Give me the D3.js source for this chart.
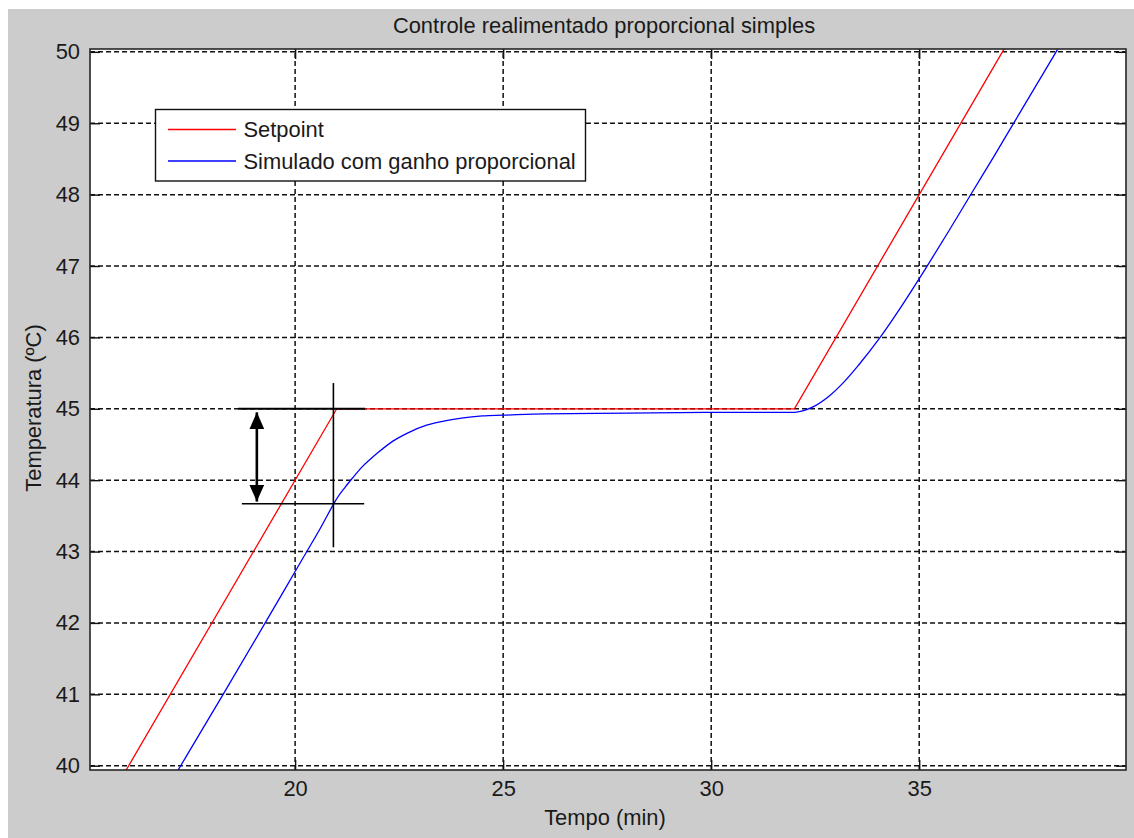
<!DOCTYPE html>
<html>
<head>
<meta charset="utf-8">
<script src="https://cdn.jsdelivr.net/npm/d3@7"></script>
<style>
  body { margin: 0; background: #ffffff; }
  svg { display: block; }
  text { font-family: "Liberation Sans", Arial, sans-serif; fill: #1a1a1a; }
</style>
</head>
<body>
<svg id="chart" width="1134" height="838"></svg>
<script>
// Setpoint (reference temperature), piecewise ramp / hold / ramp
const setpointTime = [15.0, 21.0, 32.0, 37.0, 37.6];
const setpointTemp = [39.0, 45.0, 45.0, 50.0, 50.6];

// Simulated response with proportional gain
const simTime = [15.0, 17.25, 18.27, 19.28, 20.0, 20.26, 20.6, 20.92, 21.0, 21.2,
                 21.38, 21.6, 21.8, 22.0, 22.36, 22.7, 23.16, 23.6, 24.0, 24.5,
                 25.0, 26.0, 28.0, 30.0, 32.0, 32.2, 32.46, 32.86, 33.2, 33.54,
                 34.06, 34.6, 35.16, 35.7, 36.28, 36.8, 37.3, 37.8, 38.29, 38.7];
const simTemp = [37.8, 40.0, 41.0, 42.0, 42.72, 42.98, 43.32, 43.66, 43.74, 43.9,
                 44.03, 44.18, 44.29, 44.39, 44.55, 44.66, 44.77, 44.83, 44.87, 44.9,
                 44.91, 44.93, 44.94, 44.95, 44.95, 44.97, 45.03, 45.19, 45.38, 45.61,
                 46.0, 46.46, 46.97, 47.48, 48.04, 48.54, 49.03, 49.52, 50.0, 50.4];

const xTicks = [20, 25, 30, 35];
const yTicks = [40, 41, 42, 43, 44, 45, 46, 47, 48, 49, 50];

const seriesNames = ["Setpoint", "Simulado com ganho proporcional"];
const seriesColors = ["#ff0000", "#0000ff"];

// Error markers at the end of the first ramp
const errorTime = 20.92;          // vertical marker
const setLevel = 45.0;            // setpoint level line
const respLevel = 43.67;          // response level line
const setLevelSpan = [18.63, 21.68];
const respLevelSpan = [18.72, 21.66];
const markerSpan = [43.06, 45.36];
const arrowTime = 19.08;
const arrowSpan = [43.70, 44.95];

const titleText = "Controle realimentado proporcional simples";
const xLabel = "Tempo (min)";
const yLabel = "Temperatura (ºC)";

// ---- layout ----
const W = 1134, H = 838;
const box = { left: 90, right: 1126, top: 49, bottom: 770 };
const fontSize = 21.9;

const svg = d3.select("#chart");

// figure background (light grey panel)
svg.append("rect").attr("x", 8).attr("y", 9).attr("width", W - 8).attr("height", H - 9)
  .attr("fill", "#cccccc");

const x = d3.scaleLinear().domain([15.07, 39.97]).range([box.left, box.right]);
const y = d3.scaleLinear().domain([39.94, 50.04]).range([box.bottom, box.top]);

// plot area
svg.append("rect")
  .attr("x", box.left).attr("y", box.top)
  .attr("width", box.right - box.left).attr("height", box.bottom - box.top)
  .attr("fill", "#ffffff");

svg.append("clipPath").attr("id", "plotClip")
  .append("rect")
  .attr("x", box.left).attr("y", box.top)
  .attr("width", box.right - box.left).attr("height", box.bottom - box.top);

// dashed grid
const grid = svg.append("g").attr("class", "grid");
const gridStyle = sel => sel.attr("stroke", "#111").attr("stroke-width", 1.5)
  .attr("stroke-dasharray", "5,3");
grid.selectAll("line.gx").data(xTicks).join("line").attr("class", "gx")
  .attr("x1", d => x(d)).attr("x2", d => x(d))
  .attr("y1", box.bottom).attr("y2", box.top).call(gridStyle);
grid.selectAll("line.gy").data(yTicks).join("line").attr("class", "gy")
  .attr("y1", d => y(d)).attr("y2", d => y(d))
  .attr("x1", box.left).attr("x2", box.right).call(gridStyle);

// series
const line = d3.line().x(d => x(d[0])).y(d => y(d[1]));
const smoothLine = d3.line().curve(d3.curveMonotoneX).x(d => x(d[0])).y(d => y(d[1]));
const setpointData = d3.zip(setpointTime, setpointTemp);
const simData = d3.zip(simTime, simTemp);

const plot = svg.append("g").attr("clip-path", "url(#plotClip)");
plot.append("path").datum(setpointData).attr("d", line)
  .attr("fill", "none").attr("stroke", seriesColors[0]).attr("stroke-width", 1.3);
plot.append("path").datum(simData).attr("d", smoothLine)
  .attr("fill", "none").attr("stroke", seriesColors[1]).attr("stroke-width", 1.3);

// error annotation
const ann = svg.append("g").attr("stroke", "#000");
ann.append("line")
  .attr("x1", x(setLevelSpan[0])).attr("x2", x(setLevelSpan[1]))
  .attr("y1", y(setLevel)).attr("y2", y(setLevel)).attr("stroke-width", 2);
ann.append("line")
  .attr("x1", x(respLevelSpan[0])).attr("x2", x(respLevelSpan[1]))
  .attr("y1", y(respLevel)).attr("y2", y(respLevel)).attr("stroke-width", 1.6);
ann.append("line")
  .attr("x1", x(errorTime)).attr("x2", x(errorTime))
  .attr("y1", y(markerSpan[0])).attr("y2", y(markerSpan[1])).attr("stroke-width", 1.6);

// double-headed arrow
const defs = svg.append("defs");
defs.append("marker").attr("id", "head")
  .attr("viewBox", "0 0 17 15").attr("refX", 17).attr("refY", 7.5)
  .attr("markerUnits", "userSpaceOnUse")
  .attr("markerWidth", 17).attr("markerHeight", 15)
  .attr("orient", "auto-start-reverse")
  .append("path").attr("d", "M0,0 L17,7.5 L0,15 Z").attr("fill", "#000");
ann.append("line")
  .attr("x1", x(arrowTime)).attr("x2", x(arrowTime))
  .attr("y1", y(arrowSpan[0])).attr("y2", y(arrowSpan[1]))
  .attr("stroke-width", 2.6)
  .attr("marker-start", "url(#head)").attr("marker-end", "url(#head)");

// axes with inward ticks on all four sides
const tickLen = 10;
const axisStyle = g => {
  g.select(".domain").remove();
  g.selectAll(".tick line").attr("stroke", "#111").attr("stroke-width", 1.4);
  g.selectAll("text").attr("font-size", fontSize).attr("fill", "#1a1a1a")
    .attr("font-family", "'Liberation Sans', Arial, sans-serif");
};
svg.append("g").attr("transform", `translate(0,${box.bottom})`)
  .call(d3.axisBottom(x).tickValues(xTicks).tickSize(-tickLen).tickPadding(10).tickFormat(d3.format("d")))
  .call(axisStyle);
svg.append("g").attr("transform", `translate(0,${box.top})`)
  .call(d3.axisTop(x).tickValues(xTicks).tickSize(-tickLen).tickFormat(""))
  .call(axisStyle);
svg.append("g").attr("transform", `translate(${box.left},0)`)
  .call(d3.axisLeft(y).tickValues(yTicks).tickSize(-tickLen).tickPadding(10).tickFormat(d3.format("d")))
  .call(axisStyle);
svg.append("g").attr("transform", `translate(${box.right},0)`)
  .call(d3.axisRight(y).tickValues(yTicks).tickSize(-tickLen).tickFormat(""))
  .call(axisStyle);

// axes frame
svg.append("rect")
  .attr("x", box.left).attr("y", box.top)
  .attr("width", box.right - box.left).attr("height", box.bottom - box.top)
  .attr("fill", "none").attr("stroke", "#262626").attr("stroke-width", 1.6);

// title and axis labels
svg.append("text").attr("x", 604).attr("y", 25).attr("dy", "0.35em")
  .attr("text-anchor", "middle").attr("font-size", fontSize).text(titleText);
svg.append("text").attr("x", 605).attr("y", 817).attr("dy", "0.35em")
  .attr("text-anchor", "middle").attr("font-size", fontSize).text(xLabel);
svg.append("text").attr("transform", "translate(33,408) rotate(-90)").attr("dy", "0.35em")
  .attr("text-anchor", "middle").attr("font-size", fontSize).text(yLabel);

// legend
const lg = { x: 155.5, y: 109.5, w: 430, h: 71.5 };
const legend = svg.append("g");
legend.append("rect").attr("x", lg.x).attr("y", lg.y).attr("width", lg.w).attr("height", lg.h)
  .attr("fill", "#ffffff").attr("stroke", "#111").attr("stroke-width", 1.4);
const rows = legend.selectAll("g.row").data(seriesNames).join("g").attr("class", "row")
  .attr("transform", (d, i) => `translate(${lg.x},${lg.y + 20 + i * 31.5})`);
rows.append("line").attr("x1", 12.5).attr("x2", 80.5).attr("y1", 0).attr("y2", 0)
  .attr("stroke", (d, i) => seriesColors[i]).attr("stroke-width", 1.3);
rows.append("text").attr("x", 88).attr("y", 0).attr("dy", "0.35em")
  .attr("font-size", fontSize).text(d => d);
</script>
</body>
</html>
